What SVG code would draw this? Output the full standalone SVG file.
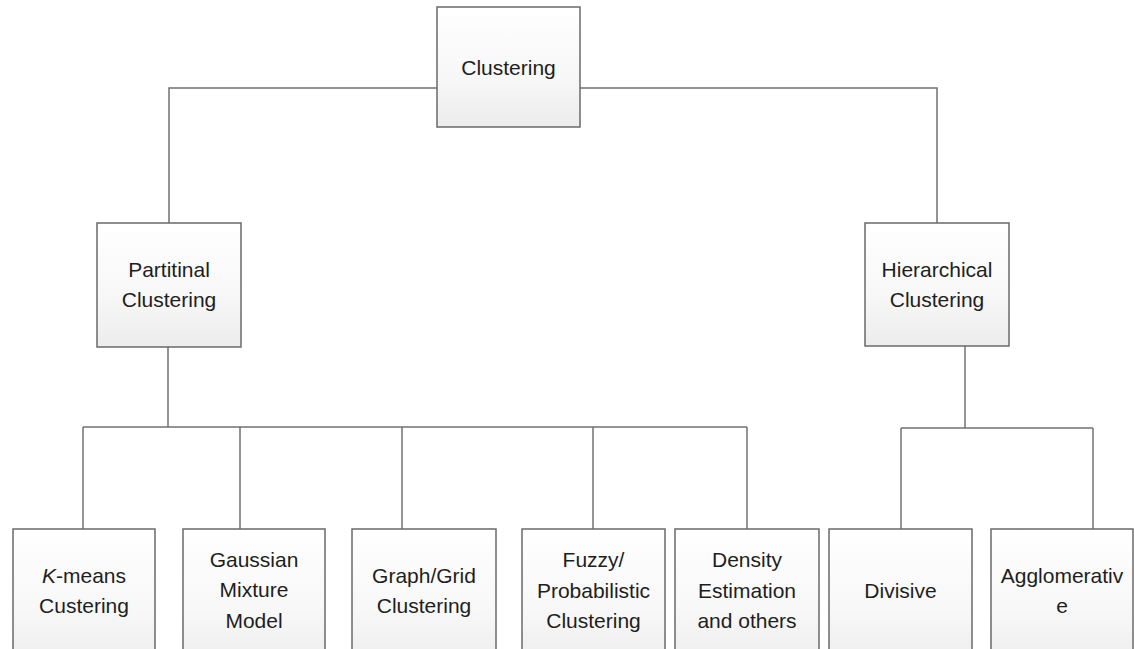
<svg xmlns="http://www.w3.org/2000/svg" width="1134" height="649" viewBox="0 0 1134 649">
<defs>
<linearGradient id="g" x1="0" y1="0" x2="0" y2="1">
<stop offset="0" stop-color="#ffffff"/>
<stop offset="0.6" stop-color="#f7f7f7"/>
<stop offset="1" stop-color="#ececec"/>
</linearGradient>
<style>
.box{fill:url(#g);stroke:#6a6a6a;stroke-width:1.5}
.t{font-family:"Liberation Sans",Arial,sans-serif;font-size:21px;fill:#1e1e1e;text-anchor:middle}
.c{fill:none;stroke:#707070;stroke-width:1.5}
</style>
</defs>
<rect width="1134" height="649" fill="#ffffff"/>
<g id="connectors">
<path class="c" d="M437 88 H169 V223"/>
<path class="c" d="M580 88 H937 V223"/>
<path class="c" d="M168 347 V427"/>
<path class="c" d="M83 427 H747"/>
<path class="c" d="M83 427 V529"/>
<path class="c" d="M240 427 V529"/>
<path class="c" d="M402 427 V529"/>
<path class="c" d="M593 427 V529"/>
<path class="c" d="M747 427 V529"/>
<path class="c" d="M965 346 V428"/>
<path class="c" d="M901 428 H1093"/>
<path class="c" d="M901 428 V529"/>
<path class="c" d="M1093 428 V529"/>
</g>
<g id="clustering">
<rect class="box" x="437" y="7" width="143" height="120"/>
<text class="t" x="508.5" y="75">Clustering</text>
</g>
<g id="partitional">
<rect class="box" x="97" y="223" width="144" height="124"/>
<text class="t" x="169" y="277">Partitinal</text>
<text class="t" x="169" y="307">Clustering</text>
</g>
<g id="hierarchical">
<rect class="box" x="865" y="223" width="144" height="123"/>
<text class="t" x="937" y="277">Hierarchical</text>
<text class="t" x="937" y="307">Clustering</text>
</g>
<g id="kmeans">
<rect class="box" x="13" y="529" width="142" height="140"/>
<text class="t" x="84" y="583"><tspan font-style="italic">K</tspan>-means</text>
<text class="t" x="84" y="613">Custering</text>
</g>
<g id="gmm">
<rect class="box" x="183" y="529" width="142" height="140"/>
<text class="t" x="254" y="567">Gaussian</text>
<text class="t" x="254" y="597">Mixture</text>
<text class="t" x="254" y="628">Model</text>
</g>
<g id="graphgrid">
<rect class="box" x="352" y="529" width="144" height="140"/>
<text class="t" x="424" y="583">Graph/Grid</text>
<text class="t" x="424" y="613">Clustering</text>
</g>
<g id="fuzzy">
<rect class="box" x="522" y="529" width="143" height="140"/>
<text class="t" x="593.5" y="567">Fuzzy/</text>
<text class="t" x="593.5" y="598">Probabilistic</text>
<text class="t" x="593.5" y="628">Clustering</text>
</g>
<g id="density">
<rect class="box" x="675" y="529" width="144" height="140"/>
<text class="t" x="747" y="567">Density</text>
<text class="t" x="747" y="598">Estimation</text>
<text class="t" x="747" y="628">and others</text>
</g>
<g id="divisive">
<rect class="box" x="829" y="529" width="143" height="140"/>
<text class="t" x="900.5" y="598">Divisive</text>
</g>
<g id="agglomerative">
<rect class="box" x="991" y="529" width="142" height="140"/>
<text class="t" x="1062" y="583">Agglomerativ</text>
<text class="t" x="1062" y="613">e</text>
</g>
</svg>
